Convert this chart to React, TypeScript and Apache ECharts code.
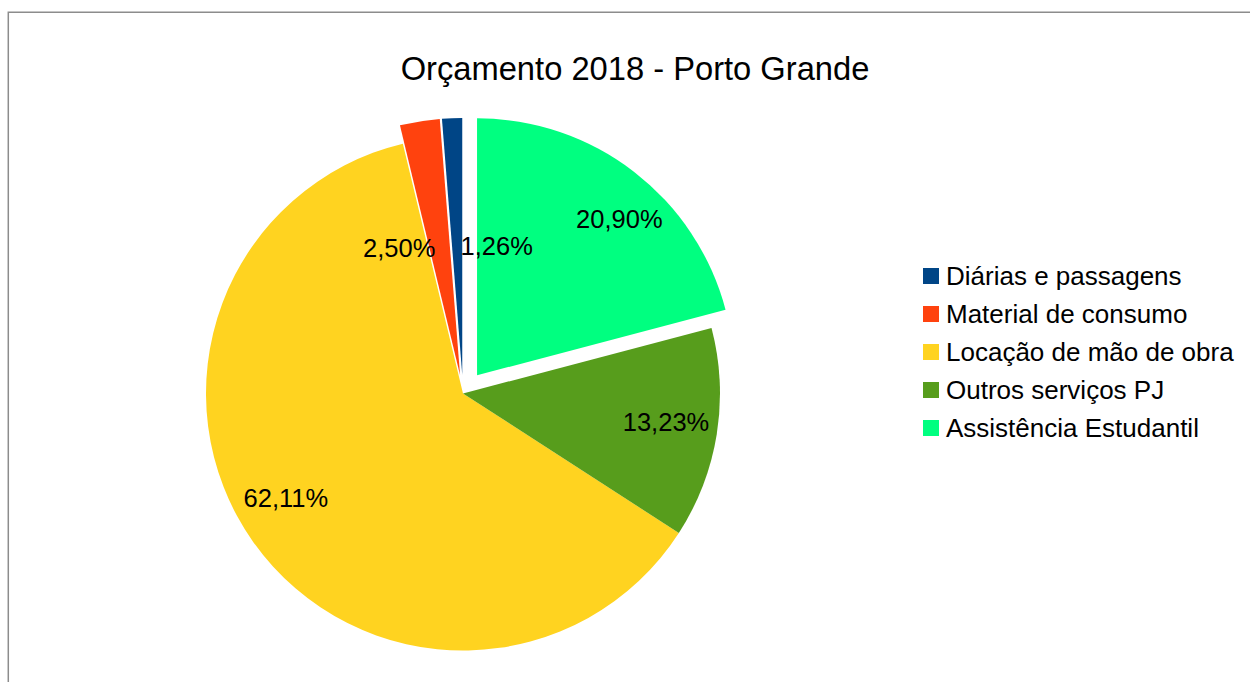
import React, { useEffect, useRef } from 'react';
import * as echarts from 'echarts';

const chartTitle = 'Orçamento 2018 - Porto Grande';
const categories = [
  'Diárias e passagens',
  'Material de consumo',
  'Locação de mão de obra',
  'Outros serviços PJ',
  'Assistência Estudantil',
];
const percentages = [1.26, 2.5, 62.11, 13.23, 20.9];
const colors = ['#004586', '#ff420e', '#ffd320', '#579d1c', '#00ff80'];
// explosion groups (LibreOffice exploded slices)
const explodedSmall = [true, true, false, false, false];
const explodedLarge = [false, false, false, false, true];
// label nudges relative to the inside label anchor (styling)
const labelNudges = [
  [42, 61],
  [-31, 61],
  [-7, -16],
  [-3, -4],
  [29, -9],
];

const FONT = 'Liberation Sans';
const CX = 463;
const CY = 393.5;
const R = 257;

export default function App() {
  const ref = useRef<HTMLDivElement>(null);
  useEffect(() => {
    document.body.style.margin = '0';
    if (!ref.current) return;
    const chart = echarts.init(ref.current, undefined, { renderer: 'svg' });
    const transparent = 'rgba(0,0,0,0)';
    const baseSeries = {
      type: 'pie',
      center: [CX, CY],
      radius: R,
      startAngle: 90,
      clockwise: false,
      silent: true,
      selectedMode: 'multiple',
      label: { show: false },
      labelLine: { show: false },
      emphasis: { disabled: true, scale: false },
      select: { itemStyle: { borderWidth: 0 } },
      itemStyle: { borderWidth: 0 },
      avoidLabelOverlap: false,
    };
    chart.setOption({
      animation: false,
      backgroundColor: '#ffffff',
      title: {
        text: chartTitle,
        left: 635,
        top: 52,
        textAlign: 'center',
        padding: 0,
        textStyle: { fontFamily: FONT, fontSize: 32.7, fontWeight: 'normal', color: '#000000' },
      },
      legend: {
        orient: 'vertical',
        left: 923,
        top: 263,
        padding: 0,
        itemWidth: 16,
        itemHeight: 16,
        itemGap: 12,
        icon: 'rect',
        selectedMode: false,
        textStyle: { fontFamily: FONT, fontSize: 26, lineHeight: 26, color: '#000000', padding: [0, 0, 0, 2] },
        data: categories.map((n, i) => ({ name: n, itemStyle: { color: colors[i] } })),
      },
      graphic: [
        {
          type: 'rect',
          shape: { x: 8.3, y: 12.3, width: 1400, height: 800 },
          style: { fill: 'none', stroke: '#8c8c8c', lineWidth: 1.5 },
          silent: true,
          z: -10,
        },
      ],
      series: [
        {
          ...baseSeries,
          name: 'main',
          selectedOffset: 18.5,
          data: categories.map((n, i) => ({
            name: n,
            value: percentages[i],
            selected: explodedSmall[i],
            itemStyle: { color: explodedLarge[i] ? transparent : colors[i] },
          })),
        },
        {
          ...baseSeries,
          name: 'exploded',
          selectedOffset: 23,
          data: categories.map((n, i) => ({
            name: n,
            value: percentages[i],
            selected: explodedLarge[i],
            itemStyle: { color: explodedLarge[i] ? colors[i] : transparent },
          })),
        },
        {
          ...baseSeries,
          name: 'labels',
          radius: [R * 0.6, R],
          selectedMode: false,
          itemStyle: { color: transparent, borderWidth: 0 },
          label: {
            show: true,
            position: 'inside',
            fontFamily: FONT,
            fontSize: 25.5,
            color: '#000000',
            formatter: (p: any) => p.value.toFixed(2).replace('.', ',') + '%',
          },
          labelLayout: (p: any) => ({
            dx: labelNudges[p.dataIndex][0],
            dy: labelNudges[p.dataIndex][1],
          }),
          data: categories.map((n, i) => ({ name: n, value: percentages[i] })),
        },
      ],
    } as any);
    return () => chart.dispose();
  }, []);
  return <div ref={ref} style={{ width: 1250, height: 682 }} />;
}
